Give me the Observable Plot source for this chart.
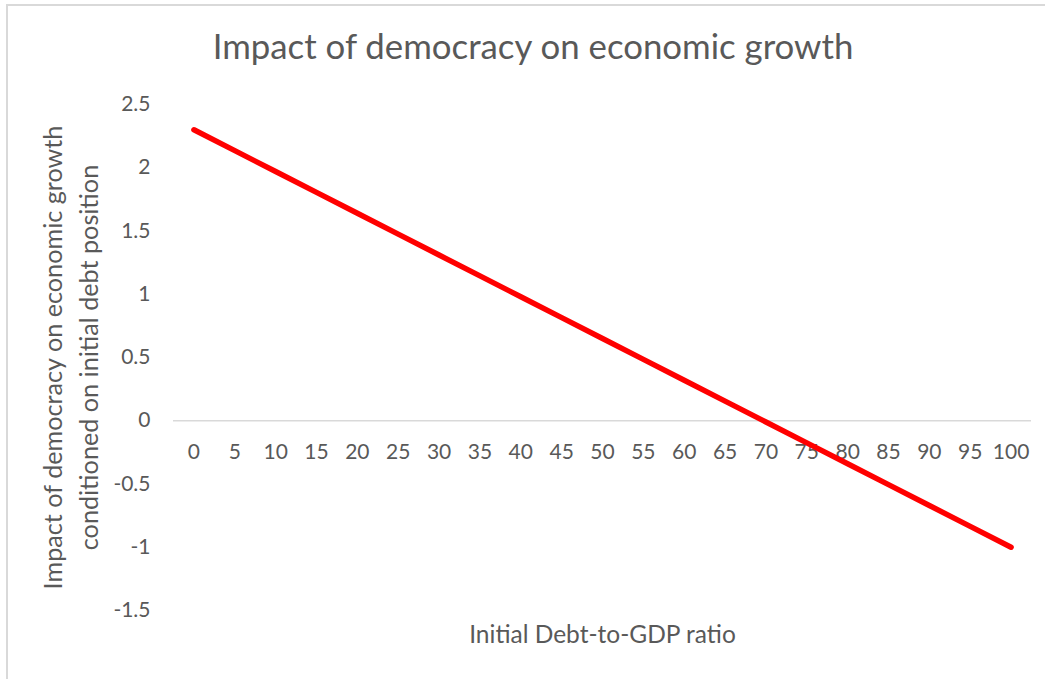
<!DOCTYPE html>
<html>
<head>
<meta charset="utf-8">
<script src="https://cdn.jsdelivr.net/npm/d3@7"></script>
<script src="https://cdn.jsdelivr.net/npm/@observablehq/plot@0.6"></script>
<style>
  html, body { margin: 0; padding: 0; background: #fff; }
  #wrap { position: relative; width: 1045px; height: 679px; overflow: hidden; font-family: Lato, "Open Sans", sans-serif; }
  #border { position: absolute; left: 6px; top: 4px; width: 1100px; height: 700px; border-left: 2px solid #d9d9d9; border-top: 2px solid #d9d9d9; box-sizing: border-box; }
  #title { position: absolute; left: 21px; top: 0; width: 1024px; height: 88px; line-height: 92px; text-align: center; font-size: 34.8px; color: #595959; }
  #chart { position: absolute; left: 0; top: 88px; }
</style>
</head>
<body>
<div id="wrap">
  <div id="border"></div>
  <div id="title">Impact of democracy on economic growth</div>
  <div id="chart"></div>
</div>
<script>
// Data
const debtRatio = [0, 5, 10, 15, 20, 25, 30, 35, 40, 45, 50, 55, 60, 65, 70, 75, 80, 85, 90, 95, 100];
const impact = [2.3, 2.135, 1.97, 1.805, 1.64, 1.475, 1.31, 1.145, 0.98, 0.815, 0.65, 0.485, 0.32, 0.155, -0.01, -0.175, -0.34, -0.505, -0.67, -0.835, -1.0];
const yTicks = [-1.5, -1, -0.5, 0, 0.5, 1, 1.5, 2, 2.5];
const xLabel = "Initial Debt-to-GDP ratio";
const yLabelLines = ["Impact of democracy on economic growth", "conditioned on initial debt position"];

const data = debtRatio.map((d, i) => ({x: String(d), y: impact[i]}));
const grey = "#595959";

const chart = Plot.plot({
  width: 1045,
  height: 591,
  marginLeft: 173,
  marginRight: 14,
  marginTop: 16,
  marginBottom: 69,
  style: {fontFamily: "Lato, 'Open Sans', sans-serif", color: grey, background: "transparent", overflow: "visible"},
  x: {type: "point", domain: debtRatio.map(String), padding: 0.5, round: false, axis: null},
  y: {domain: [-1.5, 2.5], axis: null},
  marks: [
    Plot.ruleY([0], {stroke: "#d9d9d9", strokeWidth: 1.5}),
    Plot.axisY({ticks: yTicks, tickSize: 0, tickPadding: 23, tickFormat: d => String(d), fontSize: 21, fill: grey, label: null}),
    Plot.text(debtRatio.map(String), {x: d => d, y: () => 0, text: d => d, dy: 32, fontSize: 21, fill: grey}),
    Plot.line(data, {x: "x", y: "y", stroke: "#ff0000", strokeWidth: 5.5, strokeLinecap: "round", strokeLinejoin: "round"}),
    Plot.text([xLabel], {frameAnchor: "bottom", textAnchor: "middle", lineAnchor: "middle", dy: 25, fontSize: 24.5, fill: grey}),
    Plot.text([yLabelLines[0]], {frameAnchor: "left", textAnchor: "middle", lineAnchor: "middle", rotate: -90, dx: -120, fontSize: 25.2, fill: grey}),
    Plot.text([yLabelLines[1]], {frameAnchor: "left", textAnchor: "middle", lineAnchor: "middle", rotate: -90, dx: -84, fontSize: 25.2, fill: grey})
  ]
});
document.getElementById("chart").appendChild(chart);
</script>
</body>
</html>
